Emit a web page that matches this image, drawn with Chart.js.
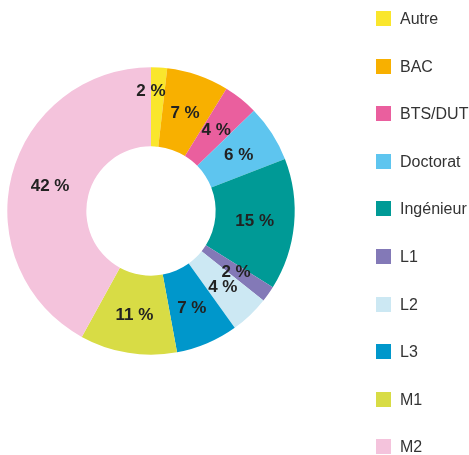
<!DOCTYPE html>
<html>
<head>
<meta charset="utf-8">
<script src="https://cdn.jsdelivr.net/npm/chart.js@4/dist/chart.umd.min.js"></script>
<style>
  html, body { margin: 0; padding: 0; background: #ffffff; }
  #wrap { position: relative; width: 469px; height: 455px; }
</style>
</head>
<body>
<div id="wrap"><canvas id="c" width="469" height="455"></canvas></div>
<script>
const categories = ['Autre', 'BAC', 'BTS/DUT', 'Doctorat', 'Ingénieur', 'L1', 'L2', 'L3', 'M1', 'M2'];
const shares = [1.8, 7.0, 3.9, 6.4, 14.8, 1.8, 4.4, 7.0, 10.9, 42.0];
const colors = ['#fae62c', '#f8b000', '#ea5f9e', '#5ec5ef', '#009a96', '#8379b7', '#cce8f3', '#0097cb', '#d8dc45', '#f4c3dc'];

const sliceLabels = {
  id: 'sliceLabels',
  afterDatasetsDraw(chart) {
    const ctx = chart.ctx;
    const meta = chart.getDatasetMeta(0);
    const vals = chart.data.datasets[0].data;
    ctx.save();
    ctx.font = 'bold 17px "Liberation Sans", Arial, sans-serif';
    ctx.fillStyle = '#222222';
    ctx.textAlign = 'center';
    ctx.textBaseline = 'middle';
    meta.data.forEach((arc, i) => {
      let p = arc.tooltipPosition();
      if (i === 0) {
        // first thin slice label pushed outward to avoid neighbour overlap
        const r = arc.outerRadius * 0.84;
        const a = arc.startAngle;
        p = { x: arc.x + Math.cos(a) * r, y: arc.y + Math.sin(a) * r };
      }
      ctx.fillText(Math.round(vals[i]) + ' %', p.x, p.y + 1);
    });
    ctx.restore();
  }
};

const sideLegend = {
  id: 'sideLegend',
  afterDraw(chart) {
    const ctx = chart.ctx;
    const labels = chart.data.labels;
    const bg = chart.data.datasets[0].backgroundColor;
    ctx.save();
    ctx.font = '16px "Liberation Sans", Arial, sans-serif';
    ctx.textAlign = 'left';
    ctx.textBaseline = 'middle';
    labels.forEach((lab, i) => {
      const cy = 18.5 + i * 47.6;
      ctx.fillStyle = bg[i];
      ctx.fillRect(376, Math.round(cy - 7.5), 15, 15);
      ctx.fillStyle = '#333333';
      ctx.fillText(lab, 400, cy + 1);
    });
    ctx.restore();
  }
};

new Chart(document.getElementById('c'), {
  type: 'doughnut',
  data: {
    labels: categories,
    datasets: [{
      data: shares,
      backgroundColor: colors,
      borderWidth: 0,
      hoverOffset: 0
    }]
  },
  options: {
    responsive: false,
    animation: false,
    cutout: '45%',
    layout: { padding: { left: 7.3, top: 67.3, right: 174.3, bottom: 100.3 } },
    plugins: {
      legend: { display: false },
      tooltip: { enabled: false }
    }
  },
  plugins: [sliceLabels, sideLegend]
});
</script>
</body>
</html>
